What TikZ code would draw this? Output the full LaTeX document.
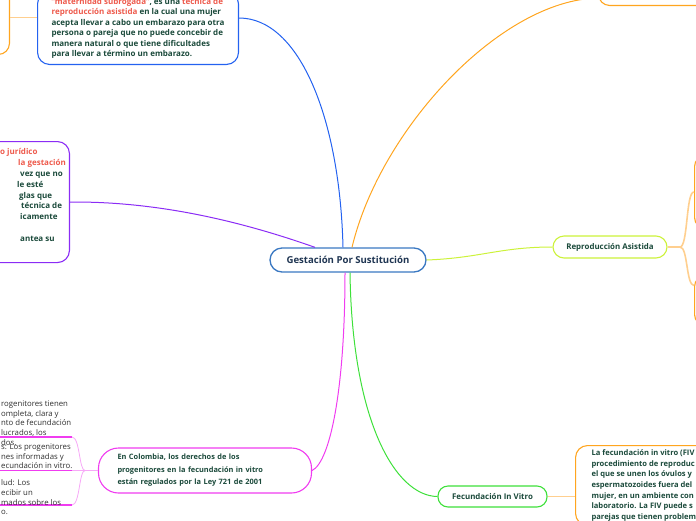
\documentclass[tikz,border=0pt]{standalone}
\usepackage{fontspec}
\setmainfont{Open Sans}
\usepackage{xcolor}
\usepackage{tikz}
\usetikzlibrary{
  positioning,
  calc,
}

\definecolor{txtgreen}{HTML}{1B4A3B}
\definecolor{navytxt}{HTML}{1F3552}
\definecolor{hlred}{HTML}{EE5A4C}
\definecolor{notegray}{HTML}{2E2E2E}
\definecolor{centerblue}{HTML}{3A78C2}
\definecolor{blueb}{HTML}{2462F0}
\definecolor{orangeb}{HTML}{FFA51F}
\definecolor{purpleb}{HTML}{8B2CF5}
\definecolor{limeb}{HTML}{CCF23A}
\definecolor{greenb}{HTML}{3EE03A}
\definecolor{magentab}{HTML}{F03CF0}
\definecolor{suborange}{HTML}{FFCF8F}
\definecolor{subpink}{HTML}{F7A8F7}

\begin{document}
\begin{tikzpicture}[
  x=1pt, y=-1pt,
  every node/.style={align=left},
  topic/.style={draw, fill=white, line width=1.1pt, rounded corners=11pt,
    text=txtgreen, font=\bfseries\fontsize{7.9}{10.5}\selectfont},
  branch/.style={line width=1pt},
  sub/.style={line width=1.6pt, suborange},
  subpinkline/.style={line width=0.8pt, subpink},
  uline/.style={line width=1.3pt, magentab},
  note/.style={inner sep=0pt, anchor=north west, text=notegray,
    font=\fontsize{7.8}{9.7}\selectfont},
]
\useasboundingbox (0,0) rectangle (696,520);

%% Central topic
\node[topic, draw=centerblue, line width=1.3pt, rounded corners=12pt,
  minimum width=156pt, minimum height=24pt, align=center, text=navytxt,
  font=\bfseries\fontsize{9.6}{11}\selectfont] (central) at (348,260)
  {Gestación Por Sustitución};

%% Main topics
\node[topic, draw=limeb, minimum width=114pt, minimum height=22pt,
  align=center] (repro) at (610,247) {Reproducción Asistida};
\node[topic, draw=greenb, rounded corners=10pt, minimum width=109pt,
  minimum height=21pt, align=center] (fiv) at (492.5,496.5)
  {Fecundación In Vitro};
\node[topic, draw=magentab, rounded corners=20pt, text width=175pt,
  inner xsep=19pt, minimum height=45pt,
  font=\bfseries\fontsize{7.4}{12.5}\selectfont] (colombia) at (205,470.5)
  {En Colombia, los derechos de los\\
   progenitores en la fecundación in vitro\\
   están regulados por la Ley 721 de 2001};
\node[topic, draw=blueb, rounded corners=12pt, inner xsep=14pt,
  inner ysep=6pt, anchor=south west,
  font=\bfseries\fontsize{8}{10.5}\selectfont] (definition) at (37,65)
  {\textcolor{hlred}{“maternidad subrogada”}, es una \textcolor{hlred}{técnica de}\\
   \textcolor{hlred}{reproducción asistida} en la cual una mujer\\
   acepta llevar a cabo un embarazo para otra\\
   persona o pareja que no puede concebir de\\
   manera natural o que tiene dificultades\\
   para llevar a término un embarazo.};
\node[topic, draw=purpleb, rounded corners=12pt, minimum width=150pt,
  minimum height=121pt, anchor=north east] (legal) at (70,141) {};
\node[inner sep=0pt, anchor=north west, text=txtgreen,
  font=\bfseries\fontsize{8}{10.8}\selectfont] (legaltext) at (0,148.5)
  {\textcolor{hlred}{o jurídico}\\
   \hspace*{18pt}\textcolor{hlred}{la gestación}\\
   \hspace*{20pt}vez que no\\
   \hspace*{17pt}le esté\\
   \hspace*{19pt}glas que\\
   \hspace*{21pt}técnica de\\
   \hspace*{20pt}icamente\\
   \mbox{}\\
   \hspace*{20pt}antea su};
\node[topic, draw=orangeb, rounded corners=12pt, anchor=north west,
  inner xsep=16pt, inner ysep=4pt,
  font=\bfseries\fontsize{7.6}{10.7}\selectfont] (fivtext) at (575,445)
  {La fecundación in vitro (FIV\\
   procedimiento de reproduc\\
   el que se unen los óvulos y\\
   espermatozoides fuera del\\
   mujer, en un ambiente con\\
   laboratorio. La FIV puede s\\
   parejas que tienen problem};

%% Sub topics cut by the page edge
\node[topic, draw=orangeb, minimum width=60pt, minimum height=73pt,
  anchor=north west] (reproa) at (694,155) {};
\node[topic, draw=orangeb, minimum width=60pt, minimum height=50pt,
  anchor=north west] (reprob) at (694,275) {};
\node[topic, draw=orangeb, minimum width=120pt, minimum height=50pt,
  anchor=south west] (toprt) at (598,6) {};
\node[topic, draw=orangeb, minimum width=60pt, minimum height=80pt,
  anchor=south east] (topleft) at (10,55) {};

%% Branches
\draw[branch, blueb] ([xshift=-5pt]central.north)
  .. controls (340,120) and (300,18) .. ([yshift=47pt]definition.south east);
\draw[branch, orangeb] ([xshift=4pt]central.north)
  .. controls (380,130) and (500,0) .. ([yshift=8pt]toprt.south west);
\draw[branch, purpleb] (legal.east)
  .. controls (170,201) and (260,228) .. ([xshift=-33pt]central.north);
\draw[branch, limeb] (central.east)
  .. controls (480,258) and (500,247) .. (repro.west);
\draw[branch, magentab] ([xshift=-3pt]central.south)
  .. controls (345,390) and (330,462) .. (colombia.east);
\draw[branch, greenb] ([xshift=2pt]central.south)
  .. controls (352,420) and (395,496) .. (fiv.west);

%% Sub branches
\coordinate (reprofork) at (680,247);
\draw[sub] (repro.east) -- (reprofork);
\draw[sub] (reprofork) .. controls (688,247) and (686,191) .. (reproa.west);
\draw[sub] (reprofork) .. controls (688,247) and (686,285)
  .. ([yshift=15pt]reprob.west);
\draw[sub] (fiv.east) -- (fiv.east -| fivtext.west);
\coordinate (tlin) at ([yshift=48pt]definition.south west);
\draw[sub, line width=0.8pt] (tlin) -- (tlin -| topleft.east);

%% Underlined topics of the law
\coordinate (lawfork) at (85,470.5);
\coordinate (rightsa) at (72,437);
\coordinate (rightsb) at (72,470.5);
\coordinate (rightsc) at (72,505);
\draw[subpinkline] (colombia.west) -- (lawfork);
\draw[subpinkline] (lawfork) .. controls (79,470.5) and (80,437) .. (rightsa);
\draw[subpinkline] (lawfork) -- (rightsb);
\draw[subpinkline] (lawfork) .. controls (79,470.5) and (80,505) .. (rightsc);
\draw[uline] (rightsa) -- (rightsa -| 0,0);
\draw[uline] (rightsb) -- (rightsb -| 0,0);
\draw[uline] (rightsc) -- (rightsc -| 0,0);

\node[note] (infoa) at (1,400.5)
  {rogenitores tienen\\ ompleta, clara y\\ nto de fecundación\\
   lucrados, los\\ dos.};
\node[note] (infob) at (1,443.5)
  {s: Los progenitores\\ nes informadas y\\ ecundación in vitro.};
\node[note] (infoc) at (1,479.5)
  {lud: Los\\ ecibir un\\ mados sobre los\\ o.};

\end{tikzpicture}
\end{document}
